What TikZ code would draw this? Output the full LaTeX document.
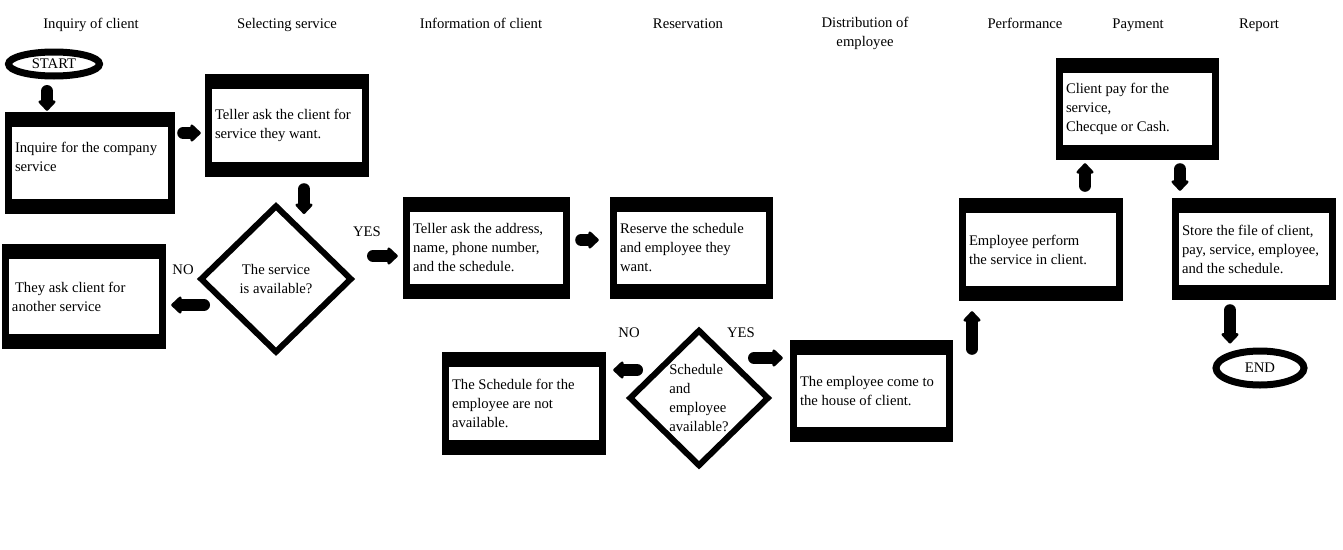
\documentclass[tikz,border=0pt]{standalone}
\usepackage{fontspec}
\setmainfont{Liberation Serif}
\usepackage{tikz}
\usetikzlibrary{shapes.geometric,arrows.meta,calc}

\newcommand{\flowfont}{\fontsize{14.67}{19}\selectfont}
% white inside of a thick black frame: width, height, text
\newcommand{\boxtext}[3]{{\setlength{\fboxsep}{0pt}\colorbox{white}{\parbox[c][#2][c]{#1}{\raggedright\leftskip=3pt\relax #3}}}}

\tikzset{
  procbox/.style={rectangle, fill=black, inner xsep=7pt, inner ysep=15pt, font=\flowfont},
  decision/.style={diamond, draw=black, line width=6pt, fill=white, inner sep=0pt, font=\flowfont},
  terminal/.style={ellipse, draw=black, line width=7pt, fill=white, inner sep=0pt, font=\flowfont},
  heading/.style={font=\flowfont, align=center, inner sep=0pt},
  answer/.style={font=\flowfont, inner sep=0pt},
  fatarrow/.style={line width=12pt, line cap=round, -{Triangle[round, width=20pt, length=11pt, line width=3pt]}},
}

\begin{document}
\begin{tikzpicture}[x=1pt,y=1pt,yscale=-1]
        \fill[white] (0,0) rectangle (1343,549);
        \useasboundingbox (0,0) rectangle (1343,549);
        % column titles
        \node[heading, anchor=base] (t1) at (91,28) {Inquiry of client};
        \node[heading, anchor=base] (t2) at (287,28) {Selecting service};
        \node[heading, anchor=base] (t3) at (481,28) {Information of client};
        \node[heading, anchor=base] (t4) at (688,28) {Reservation};
        \node[heading] (t5) at (865,33.5) {Distribution of\\employee};
        \node[heading, anchor=base] (t6) at (1025,28) {Performance};
        \node[heading, anchor=base] (t7) at (1138,28) {Payment};
        \node[heading, anchor=base] (t8) at (1259,28) {Report};
        % start and end
        \node[terminal, minimum width=91pt, minimum height=24pt] (start) at (54,64) {START};
        \node[terminal, minimum width=88pt, minimum height=34pt] (end) at (1260,368) {END};
        % steps
        \node[procbox] (b1) at (90,163) {\boxtext{156pt}{72pt}{Inquire for the company\\service\par\vspace*{13pt}}};
        \node[procbox] (b2) at (287,125.5) {\boxtext{150pt}{73pt}{Teller ask the client for\\service they want.}};
        \node[procbox] (b3) at (84,296.5) {\boxtext{150pt}{75pt}{\hspace*{3pt}They ask client for\\another service}};
        \node[procbox] (b4) at (486.5,248) {\boxtext{153pt}{72pt}{Teller ask the address,\\name, phone number,\\and the schedule.}};
        \node[procbox] (b5) at (691.5,248) {\boxtext{149pt}{72pt}{Reserve the schedule\\and employee they\\want.}};
        \node[procbox] (b6) at (524,403.5) {\boxtext{150pt}{73pt}{The Schedule for the\\employee are not\\available.}};
        \node[procbox] (b7) at (871.5,391) {\boxtext{149pt}{72pt}{The employee come to\\the house of client.}};
        \node[procbox] (b8) at (1041,249.5) {\boxtext{150pt}{73pt}{Employee perform\\the service in client.}};
        \node[procbox] (b9) at (1137.5,109) {\boxtext{149pt}{72pt}{Client pay for the\\service,\\Checque or Cash.}};
        \node[procbox] (b10) at (1254,249) {\boxtext{150pt}{72pt}{Store the file of client,\\pay, service, employee,\\and the schedule.}};
        % decisions
        \node[decision, minimum width=152pt, minimum height=148pt, align=center] (d1) at (276,279) {The service\\is available?};
        \node[decision, minimum width=140pt, minimum height=137pt, align=left] (d2) at (699,398) {Schedule\\and\\employee\\available?};
        \node[answer] (no1) at (183,270) {NO};
        \node[answer] (yes1) at (367,232) {YES};
        \node[answer] (no2) at (629,333) {NO};
        \node[answer] (yes2) at (741,333) {YES};
        % arrows
        \draw[fatarrow] ($(start.south)+(-7,11.5)$) -- ($(b1.north)+(-43,-1)$);
        \draw[fatarrow] ($(b1.east)+(8,-30)$) -- ($(b2.west)+(-4,7.5)$);
        \draw[fatarrow] ($(b2.south)+(17,12)$) -- ($(d1.north)+(28,12)$);
        \draw[fatarrow] ($(d1.west)+(7,26)$) -- ($(b3.east)+(5,8.5)$);
        \draw[fatarrow] ($(d1.east)+(18,-23)$) -- ($(b4.west)+(-5,8)$);
        \draw[fatarrow] ($(b4.east)+(11,-8)$) -- ($(b5.west)+(-11,-8)$);
        \draw[fatarrow] ($(d2.west)+(11,-28)$) -- ($(b6.east)+(7,-33.5)$);
        \draw[fatarrow] ($(d2.east)+(-18,-40)$) -- ($(b7.west)+(-7,-33)$);
        \draw[fatarrow] ($(b7.north)+(100.5,9)$) -- ($(b8.south)+(-69,10)$);
        \draw[fatarrow] ($(b8.north)+(44,-12)$) -- ($(b9.south)+(-52.5,3)$);
        \draw[fatarrow] ($(b9.south)+(42.5,9)$) -- ($(b10.north)+(-74,-7)$);
        \draw[fatarrow] ($(b10.south)+(-24,10)$) -- ($(end.north)+(-30,-4)$);
\end{tikzpicture}
\end{document}
